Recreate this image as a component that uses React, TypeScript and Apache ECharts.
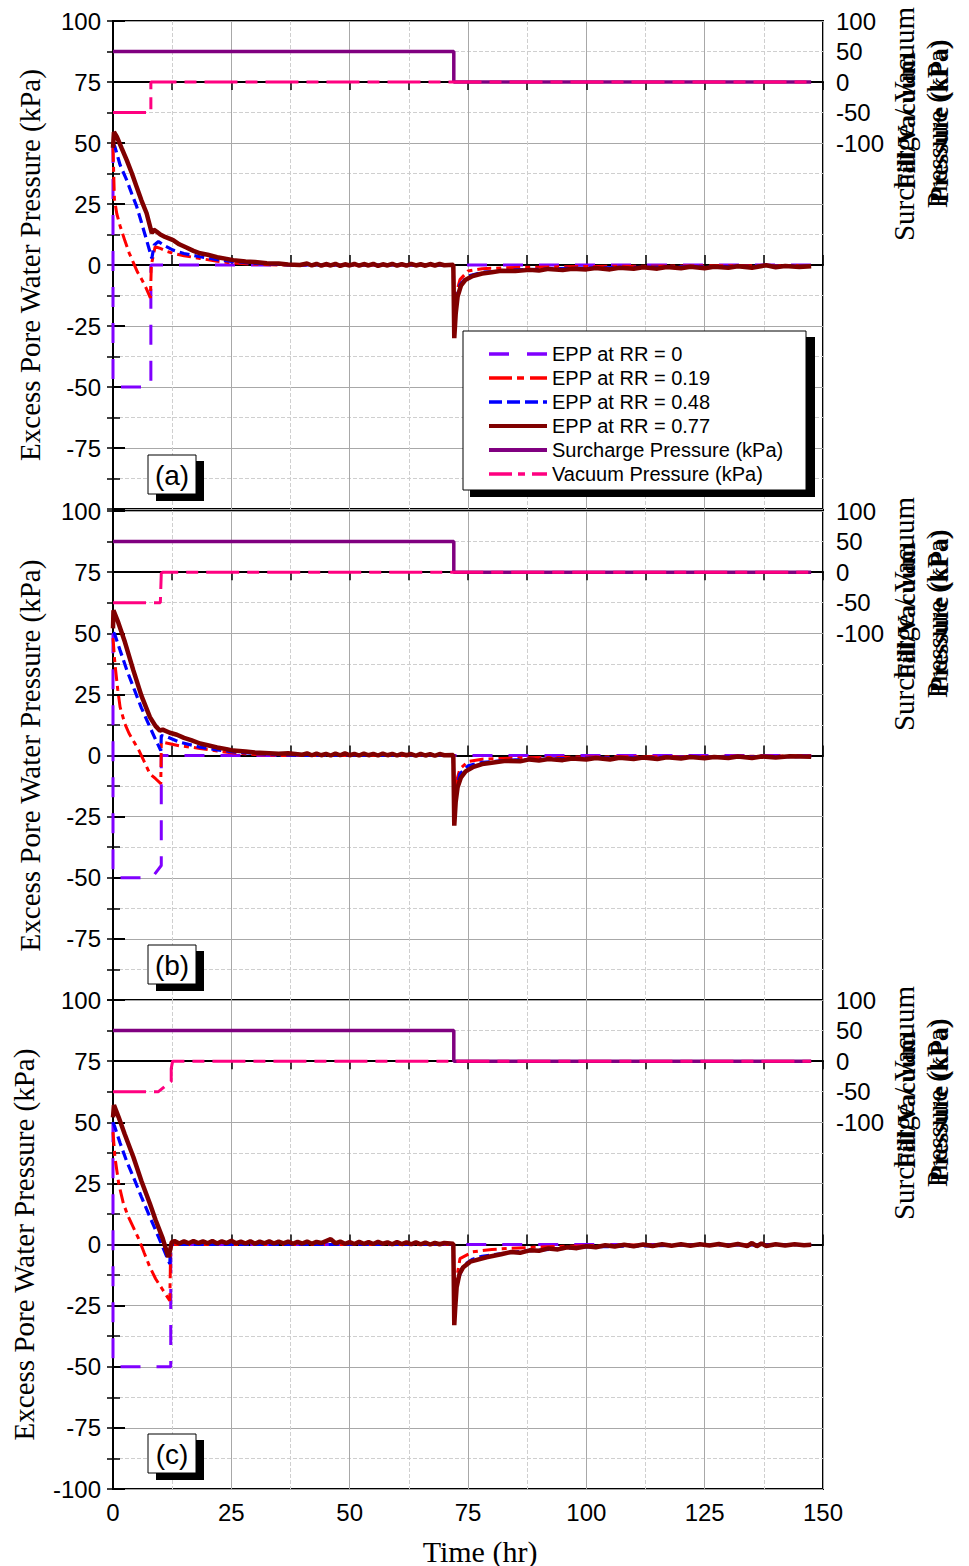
import React, { useEffect, useRef } from "react";
import * as echarts from "echarts";

const seriesNames = [
  "EPP at RR = 0",
  "EPP at RR = 0.19",
  "EPP at RR = 0.48",
  "EPP at RR = 0.77",
  "Surcharge Pressure (kPa)",
  "Vacuum Pressure (kPa)",
];
const panelLabels = ["(a)", "(b)", "(c)"];
const leftTitle = "Excess Pore Water Pressure (kPa)";
const rightTitle = "Surcharge / Vacuum\nPressure (kPa)";
const rightTitle2 = "Fill/Vacuum\nPressure (kPa)";
const xTitle = "Time (hr)";

// ---- Panel (a): vacuum removed at ~8 h
const aRR0 = [[0, 50], [0, -50], [8, -50], [8, 0], [147.5, 0]];
const aRR019 = [[0, 48], [0.3, 27], [0.8, 21], [1.5, 16], [2.5, 10], [3.4, 5], [4.3, 1], [5.2, -3], [6.1, -6], [7, -9.5], [7.9, -13.5], [8.1, 0], [8.9, 7.5], [10, 6.8], [11.5, 5.5], [12.7, 4.8], [15, 3.8], [18.4, 2.7], [22, 1.5], [25.4, 0.8], [30, 0.3], [35, 0], [71.9, 0], [72.1, -25], [72.5, -12], [73.3, -6], [75, -2.5], [78, -1.5], [85, -1], [100, -0.6], [120, -0.4], [147.5, -0.2]];
const aRR048 = [[0, 50], [0.4, 48.5], [1.5, 41], [2.9, 34.8], [4, 29], [5, 24], [6, 17.5], [7.1, 10.2], [8.2, 2.7], [8.7, 8.2], [9.6, 9.6], [11, 7.8], [12.7, 6.1], [15, 4.7], [18.4, 3.4], [22, 2.2], [25.4, 1.4], [30, 0.7], [35, 0.2], [40, 0], [71.9, 0], [72.1, -28], [72.5, -15], [73.3, -8], [75, -4.5], [78, -3], [85, -2], [100, -1.2], [120, -0.8], [147.5, -0.4]];
const aRR077 = [[0, 48], [0.2, 54.5], [0.8, 52.6], [1.8, 48], [2.9, 43], [4, 37.5], [5, 32], [6, 26.5], [7.1, 21.2], [8.2, 13], [8.6, 14.5], [9.2, 13.7], [10, 12.5], [11, 11.5], [12.7, 10.2], [14, 8.5], [15.5, 7.2], [17, 5.8], [18.4, 4.8], [20, 4.2], [22, 3.2], [24, 2.5], [25.4, 2], [28, 1.4], [30, 1.2], [32.5, 0.7], [35, 0.6], [37, 0.2], [39.5, 0], [41, 0.6], [42, -0.2], [43, 0.5], [44, -0.3], [45, 0.4], [46, -0.2], [47, 0.5], [48, -0.4], [49, 0.3], [50, -0.2], [51, 0.5], [52, -0.3], [53, 0.4], [54, -0.2], [55, 0.5], [56, -0.4], [57, 0.3], [58, -0.2], [59, 0.5], [60, -0.3], [61, 0.4], [62, -0.3], [63, 0.5], [64, -0.2], [65, 0.3], [66, -0.3], [67, 0.4], [68, -0.2], [69, 0.4], [70, -0.1], [71.9, 0.1], [72.1, -30], [72.4, -20], [72.8, -13], [73.5, -8.5], [74.5, -6], [76, -4.5], [78, -3.5], [80, -3], [82, -2.4], [85, -2.5], [88, -2], [90, -2.3], [92, -1.6], [95, -2.1], [97, -1.5], [100, -1.8], [102, -1.2], [105, -1.8], [107, -1.1], [110, -1.5], [112, -0.9], [115, -1.5], [117, -0.8], [120, -1.3], [122, -0.7], [125, -1.3], [127, -0.7], [130, -1.1], [132, -0.5], [135, -1.1], [138, -0.1], [140, -0.9], [142, -0.4], [145, -0.8], [147.5, -0.5]];
const aSurcharge = [[0, 50], [72, 50], [72, 0], [147.5, 0]];
const aVacuum = [[0, -50], [8, -50], [8, 0], [147.5, 0]];

// ---- Panel (b): vacuum removed at ~10 h
const bRR0 = [[0, 50], [0, -50], [8.2, -50], [10.2, -45], [10.2, 0], [147.5, 0]];
const bRR019 = [[0, 48], [0.4, 37.7], [1, 27], [1.5, 19.8], [2.5, 13], [3.4, 9], [4.3, 6], [5.5, 2], [6.6, -2.5], [7.8, -7.5], [9, -9.5], [10.1, -11.5], [10.2, 5.5], [11.5, 5], [14, 4], [18.4, 2.9], [22, 1.8], [25.4, 1], [30, 0.4], [35, 0], [71.9, 0], [72.1, -24], [72.5, -11], [73.3, -5.5], [75, -2.5], [78, -1.5], [85, -1], [100, -0.6], [147.5, -0.2]];
const bRR048 = [[0, 50], [0.3, 50], [1.5, 43], [2.9, 35], [4.3, 28], [6, 19.5], [7.8, 11.6], [9, 6.5], [10.1, 2], [10.2, 8.2], [11.5, 7.6], [14, 5.5], [18.4, 3.4], [22, 2.3], [25.4, 1.5], [30, 0.8], [35, 0.3], [40, 0], [71.9, 0], [72.1, -26], [72.5, -14], [73.3, -7.5], [75, -4.2], [78, -2.8], [85, -1.8], [100, -1.1], [120, -0.7], [147.5, -0.4]];
const bRR077 = [[0, 52], [0.1, 59.4], [1, 55], [2.5, 46.5], [4.3, 34.8], [6, 24.5], [7.8, 15.7], [9, 12], [9.9, 10.2], [10.5, 10.6], [12, 9.3], [13.5, 8.5], [15, 7.2], [16.5, 6.3], [18.4, 4.9], [20, 4.2], [22, 3.3], [24, 2.6], [25.4, 2], [28, 1.6], [30, 1.2], [32, 1], [35, 0.7], [37, 0.9], [40, 0.3], [41, 0.9], [42, 0.1], [43, 0.8], [44, 0.1], [45, 0.7], [46, 0], [47, 0.8], [48, 0.1], [49, 0.9], [50, 0.1], [51, 0.7], [52, 0], [53, 0.8], [54, 0.1], [55, 0.7], [56, 0], [57, 0.8], [58, 0.1], [59, 0.7], [60, 0], [61, 0.7], [62, 0.1], [63, 0.6], [64, -0.1], [65, 0.7], [66, 0], [67, 0.6], [68, -0.1], [69, 0.6], [70, 0.1], [71.9, 0.2], [72.1, -28.7], [72.4, -19], [72.8, -13], [73.5, -9], [74.5, -6.5], [76, -4.8], [78, -3.5], [80, -3], [83, -2.2], [86, -2.4], [88, -1.6], [90, -2.1], [92, -1.4], [95, -1.9], [97, -1.2], [100, -1.6], [102, -1], [105, -1.6], [107, -0.9], [110, -1.4], [112, -0.8], [115, -1.4], [117, -0.7], [120, -1.2], [122, -0.6], [125, -1.1], [127, -0.6], [130, -1], [132, -0.4], [135, -1], [137, -0.4], [140, -0.8], [143, -0.3], [147.5, -0.5]];
const bSurcharge = [[0, 50], [72, 50], [72, 0], [147.5, 0]];
const bVacuum = [[0, -50], [10, -50], [10.2, -2], [10.6, 0], [147.5, 0]];

// ---- Panel (c): vacuum removed at ~12 h
const cRR0 = [[0, 50], [0, -50], [12.2, -50], [12.2, 0], [147.5, 0]];
const cRR019 = [[0, 46], [0.4, 35.8], [1.2, 25], [2.2, 16.7], [3.2, 11.5], [4.3, 7], [5.5, 2], [6.6, -3.5], [7.8, -9.3], [9, -14], [10.5, -18.5], [12, -23], [12.2, 0], [71.9, 0], [72.1, -28], [72.6, -14], [73.3, -5.8], [76, -3], [80, -2], [90, -1], [107, -0.2], [147.5, 0]];
const cRR048 = [[0, 50], [0.4, 48], [1.5, 41.5], [2.9, 34], [4.3, 27.6], [6, 19.5], [7.8, 11.2], [9.2, 5], [10.6, -1.5], [12, -7.9], [12.2, 0], [71.9, 0], [72.1, -30], [72.6, -16], [74, -8.5], [76, -6], [78, -4.8], [86, -2.8], [100, -1], [120, -0.3], [147.5, 0]];
const cRR077 = [[0, 52], [0.2, 57], [1.2, 52], [2.5, 45], [4.3, 35.8], [6, 26], [7.8, 16.7], [9, 10], [10.5, 2.5], [11.7, -5.2], [12.1, -2], [12.4, 1], [13, 1.4], [14, 0.4], [15, 1.3], [16, 0.5], [17, 1.4], [18, 0.6], [19, 1.3], [20, 0.5], [21, 1.4], [22, 0.4], [23, 1.3], [24, 0.6], [25, 1.5], [26, 0.5], [27, 1.2], [28, 0.4], [29, 1.3], [30, 0.3], [31, 1.2], [32, 0.5], [33, 1.3], [34, 0.4], [35, 1.2], [36, 0.5], [37, 1.2], [38, 0.3], [39, 1.1], [40, 0.4], [41, 1.2], [42, 0.3], [43, 1.1], [44, 0.6], [45, 1.4], [46, 2.2], [47, 0.5], [48, 1.2], [49, 0.3], [50, 1], [51, 0.2], [52, 1.1], [53, 0.3], [54, 1], [55, 0.2], [56, 1.1], [57, 0.3], [58, 0.9], [59, 0.1], [60, 1], [61, 0.2], [62, 0.9], [63, 0.1], [64, 0.9], [65, 0.1], [66, 0.8], [67, 0], [68, 0.7], [69, 0.1], [70, 0.6], [71.9, 0.3], [72.1, -33], [72.3, -26], [72.6, -17.5], [73.2, -12], [74, -9.3], [75.5, -7], [76.5, -6.5], [78.9, -5.2], [82, -4], [84, -3.1], [86, -3.4], [88, -2.4], [90, -2.6], [92, -1.6], [94, -2], [96, -1.1], [98, -1.5], [100, -0.7], [102, -1.1], [104, -0.3], [106, -0.8], [108, -0.1], [110, -0.7], [112, 0], [114, -0.6], [116, 0.1], [118, -0.5], [120, 0.1], [122, -0.5], [124, 0.1], [126, -0.4], [128, 0.2], [130, -0.5], [132, 0.2], [134, -0.6], [135, 0.6], [136, -0.7], [137, 0.4], [138, -0.6], [140, 0.1], [142, -0.4], [144, 0.1], [146, -0.3], [147.5, -0.1]];
const cSurcharge = [[0, 50], [72, 50], [72, 0], [147.5, 0]];
const cVacuum = [[0, -50], [9.6, -50], [12.3, -33], [12.3, -12], [12.6, 0], [147.5, 0]];

const panels = [
  [aRR0, aRR019, aRR048, aRR077, aSurcharge, aVacuum],
  [bRR0, bRR019, bRR048, bRR077, bSurcharge, bVacuum],
  [cRR0, cRR019, cRR048, cRR077, cSurcharge, cVacuum],
];

const colors = ["#8000FF", "#FF0000", "#0000FF", "#800000", "#800080", "#FF0080"];
const widths = [3, 3, 3.2, 4.5, 3.5, 3];
const dashes: any[] = [[20, 16], [14, 5, 5, 5], [10, 5], "solid", "solid", [33, 8, 12, 8]];
const legendDashes: any[] = [[20, 18], [23, 5, 7, 6], [13, 5], "solid", "solid", [23, 6, 7, 7]];

const gridTops = [21, 511, 1000];
const gridHeights = [488, 489, 489];
const SANS = "'Liberation Sans', Arial, sans-serif";
const SERIF = "'Liberation Serif', 'Times New Roman', serif";

export default function App() {
  const ref = useRef<HTMLDivElement>(null);
  useEffect(() => {
    document.body.style.margin = "0";
    const chart = echarts.init(ref.current!, undefined, { renderer: "svg" });

    const grid = gridTops.map((t, i) => ({
      left: 113,
      right: 146,
      top: t,
      height: gridHeights[i],
      show: true,
      borderColor: "#000",
      borderWidth: 2,
      backgroundColor: "transparent",
    }));

    const xAxis: any[] = [];
    const yAxis: any[] = [];
    gridTops.forEach((_, i) => {
      xAxis.push({
        type: "value",
        gridIndex: i,
        min: 0,
        max: 150,
        interval: 25,
        position: "bottom",
        axisLine: { show: true, lineStyle: { color: "#000", width: 2 } },
        axisTick: { show: true, inside: true, length: 10, lineStyle: { color: "#000", width: 1.5 } },
        minorTick: { show: true, splitNumber: 2, length: 10, lineStyle: { color: "#000", width: 1.5 } },
        splitLine: { show: true, lineStyle: { color: "#a8a8a8", width: 1 } },
        minorSplitLine: { show: true, lineStyle: { color: "#cfcfcf", width: 1, type: "dashed" } },
        axisLabel: {
          show: i === 2,
          color: "#000",
          fontSize: 24,
          fontFamily: SANS,
          margin: 11,
        },
      });
      xAxis.push({
        type: "value",
        gridIndex: i,
        min: 0,
        max: 150,
        interval: 25,
        position: "top",
        axisLine: { show: true, lineStyle: { color: "#000", width: 2 } },
        axisTick: { show: true, inside: true, length: 8, lineStyle: { color: "#000", width: 1.5 } },
        minorTick: { show: true, splitNumber: 2, length: 8, lineStyle: { color: "#000", width: 1.5 } },
        splitLine: { show: false },
        axisLabel: { show: false },
      });
      yAxis.push({
        type: "value",
        gridIndex: i,
        min: -100,
        max: 100,
        interval: 25,
        position: "left",
        axisLine: { show: true, lineStyle: { color: "#000", width: 2 } },
        axisTick: { show: true, inside: true, length: 12, lineStyle: { color: "#000", width: 2 } },
        minorTick: { show: true, splitNumber: 2, length: 7, lineStyle: { color: "#000", width: 1.5 } },
        splitLine: { show: true, lineStyle: { color: "#a8a8a8", width: 1 } },
        minorSplitLine: { show: true, lineStyle: { color: "#cfcfcf", width: 1, type: "dashed" } },
        axisLabel: {
          color: "#000",
          fontSize: 24,
          fontFamily: SANS,
          margin: 12,
          formatter: (v: number) => (v === -100 && i < 2 ? "" : String(v)),
        },
      });
      yAxis.push({
        type: "value",
        gridIndex: i,
        min: -700,
        max: 100,
        interval: 50,
        position: "right",
        axisLine: { show: true, lineStyle: { color: "#000", width: 2 } },
        axisTick: { show: true, inside: true, length: 6, lineStyle: { color: "#000", width: 1.5 } },
        splitLine: { show: false },
        axisLabel: {
          color: "#000",
          fontSize: 24,
          fontFamily: SANS,
          margin: 13,
          formatter: (v: number) => (v >= -100 ? String(v) : ""),
        },
      });
    });

    const series: any[] = [];
    panels.forEach((p, i) => {
      p.forEach((data, k) => {
        series.push({
          type: "line",
          name: seriesNames[k],
          xAxisIndex: 2 * i,
          yAxisIndex: k >= 4 ? 2 * i + 1 : 2 * i,
          data,
          symbol: "none",
          showSymbol: false,
          silent: true,
          lineStyle: { color: colors[k], width: widths[k], type: dashes[k] },
          itemStyle: { color: colors[k] },
          z: 2 + k,
        });
      });
    });

    const legendData = seriesNames.map((n, k) => ({
      name: n,
      itemStyle: { opacity: 0 },
      lineStyle: { color: colors[k], width: k === 3 || k === 4 ? 4 : 3.5, type: legendDashes[k] },
    }));

    const elements: any[] = [];
    gridTops.forEach((t, i) => {
      const h = gridHeights[i];
      elements.push({
        type: "text",
        x: i === 2 ? 24 : 30,
        y: t + h / 2,
        rotation: Math.PI / 2,
        style: { text: leftTitle, font: `29px ${SERIF}`, fill: "#000", align: "center", verticalAlign: "middle" },
        z: 50,
      });
      elements.push({
        type: "text",
        x: 920,
        y: t + 103,
        rotation: Math.PI / 2,
        style: { text: rightTitle, font: `29px ${SERIF}`, lineHeight: 33, fill: "#000", align: "center", verticalAlign: "middle" },
        z: 50,
      });
      elements.push({
        type: "text",
        x: 923,
        y: t + 100,
        rotation: Math.PI / 2,
        style: { text: rightTitle2, font: `bold 26px ${SERIF}`, lineHeight: 33, fill: "#000", align: "center", verticalAlign: "middle" },
        z: 50,
      });
      elements.push({ type: "rect", shape: { x: 156, y: t + 440, width: 48, height: 40 }, style: { fill: "#000" }, z: 60 });
      elements.push({ type: "rect", shape: { x: 148, y: t + 434, width: 48, height: 39 }, style: { fill: "#fff", stroke: "#000", lineWidth: 1 }, z: 61 });
      elements.push({
        type: "text",
        x: 172,
        y: t + 454,
        style: { text: panelLabels[i], font: `28px ${SANS}`, fill: "#000", align: "center", verticalAlign: "middle" },
        z: 62,
      });
    });
    // legend frame
    elements.push({ type: "rect", shape: { x: 470, y: 337, width: 345, height: 160 }, style: { fill: "#000" }, z: 60 });
    elements.push({ type: "rect", shape: { x: 463, y: 331, width: 343, height: 159 }, style: { fill: "#fff", stroke: "#000", lineWidth: 1 }, z: 61 });
    elements.push({
      type: "text",
      x: 480,
      y: 1551,
      style: { text: xTitle, font: `30px ${SERIF}`, fill: "#000", align: "center", verticalAlign: "middle" },
      z: 50,
    });

    chart.setOption({
      animation: false,
      backgroundColor: "#fff",
      grid,
      xAxis,
      yAxis,
      series,
      legend: {
        data: legendData,
        orient: "vertical",
        left: 487,
        top: 344,
        itemWidth: 58,
        itemHeight: 14,
        itemGap: 4,
        padding: 0,
        z: 100,
        selectedMode: false,
        itemStyle: { opacity: 0 },
        textStyle: { color: "#000", fontSize: 20, fontFamily: SANS, lineHeight: 20 },
      },
      graphic: { elements },
    });
    return () => chart.dispose();
  }, []);
  return <div ref={ref} style={{ width: 969, height: 1566 }} />;
}
